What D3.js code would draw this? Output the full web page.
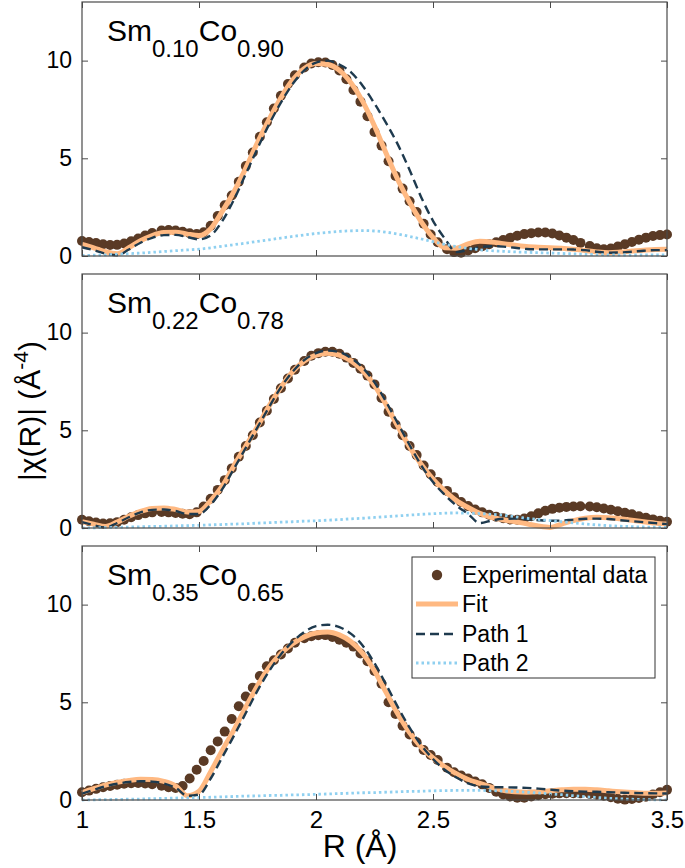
<!DOCTYPE html>
<html><head><meta charset="utf-8">
<script src="https://cdn.jsdelivr.net/npm/d3@7"></script>
<style>
body{margin:0;background:#fff}
svg text{font-family:"Liberation Sans",Arial,Helvetica,sans-serif;fill:#000}
</style>
</head><body>
<svg id="chart" width="685" height="868"></svg>
<script>
// ---------- data ----------
const rData = [
1.00,1.03,1.06,1.09,1.12,1.15,1.18,1.21,1.24,1.27,
1.30,1.34,1.37,1.40,1.43,1.46,1.49,1.52,1.55,1.58,
1.61,1.64,1.67,1.70,1.73,1.76,1.79,1.82,1.85,1.88,
1.91,1.95,1.98,2.01,2.04,2.07,2.10,2.13,2.16,2.19,
2.22,2.25,2.28,2.31,2.34,2.37,2.40,2.43,2.46,2.49,
2.52,2.56,2.59,2.62,2.65,2.68,2.71,2.74,2.77,2.80,
2.83,2.86,2.89,2.92,2.95,2.98,3.01,3.04,3.07,3.10,
3.13,3.17,3.20,3.23,3.26,3.29,3.32,3.35,3.38,3.41,
3.44,3.47,3.50];

const rLine = [
1.00,1.05,1.10,1.15,1.20,1.25,1.30,1.35,1.40,1.45,
1.50,1.55,1.60,1.65,1.70,1.75,1.80,1.85,1.90,1.95,
2.00,2.05,2.10,2.15,2.20,2.25,2.30,2.35,2.40,2.45,
2.50,2.55,2.60,2.65,2.70,2.75,2.80,2.85,2.90,2.95,
3.00,3.05,3.10,3.15,3.20,3.25,3.30,3.35,3.40,3.45,3.50];

// Sm0.10Co0.90
const exp010 = [
0.77,0.72,0.66,0.60,0.56,0.57,0.64,0.75,0.90,1.05,
1.18,1.30,1.33,1.30,1.24,1.16,1.12,1.22,1.55,2.05,
2.60,3.10,3.80,4.60,5.30,6.10,6.85,7.55,8.20,8.80,
9.25,9.65,9.85,9.92,9.90,9.78,9.50,9.05,8.50,7.90,
7.15,6.35,5.65,4.85,4.10,3.45,2.80,2.25,1.65,1.10,
0.70,0.35,0.20,0.17,0.28,0.40,0.50,0.60,0.70,0.82,
0.94,1.04,1.12,1.17,1.20,1.20,1.15,1.05,0.94,0.82,
0.67,0.51,0.40,0.34,0.38,0.48,0.60,0.72,0.83,0.94,
1.02,1.07,1.10];
const fit010 = [
0.60,0.42,0.22,0.12,0.42,0.78,1.05,1.20,1.22,1.12,
1.05,1.40,2.30,3.30,4.50,5.80,7.00,8.10,9.00,9.60,
9.85,9.80,9.50,8.85,7.90,6.65,5.25,3.90,2.75,1.75,
0.95,0.42,0.40,0.62,0.75,0.72,0.63,0.55,0.49,0.45,
0.42,0.40,0.35,0.28,0.21,0.17,0.20,0.25,0.30,0.33,0.35];
const p1_010 = [
0.45,0.30,0.12,0.04,0.33,0.68,0.93,1.07,1.08,0.97,
0.85,1.05,1.80,2.90,4.20,5.50,6.75,7.85,8.80,9.50,
9.90,10.00,9.80,9.40,8.70,7.80,6.80,5.70,4.40,3.00,
1.80,0.90,0.20,0.30,0.45,0.50,0.48,0.42,0.36,0.34,
0.34,0.34,0.33,0.30,0.22,0.17,0.18,0.22,0.27,0.30,0.30];
const p2_010 = [
0.03,0.04,0.06,0.09,0.12,0.15,0.19,0.23,0.27,0.31,
0.35,0.42,0.50,0.58,0.66,0.75,0.83,0.92,1.00,1.08,
1.15,1.21,1.26,1.29,1.30,1.28,1.22,1.12,1.00,0.87,
0.73,0.60,0.48,0.39,0.32,0.27,0.24,0.21,0.19,0.17,
0.15,0.13,0.11,0.09,0.07,0.06,0.05,0.05,0.05,0.05,0.05];

// Sm0.22Co0.78
const exp022 = [
0.42,0.35,0.28,0.23,0.24,0.30,0.42,0.55,0.66,0.75,
0.80,0.82,0.80,0.77,0.73,0.71,0.80,1.10,1.50,1.95,
2.45,3.05,3.65,4.20,4.75,5.40,6.00,6.60,7.15,7.65,
8.10,8.55,8.82,8.95,9.02,9.02,8.92,8.72,8.45,8.15,
7.80,7.35,6.65,5.95,5.30,4.75,4.20,3.73,3.20,2.75,
2.36,1.90,1.58,1.33,1.12,0.95,0.80,0.68,0.58,0.50,
0.44,0.42,0.48,0.60,0.75,0.88,0.98,1.04,1.08,1.10,
1.11,1.10,1.06,1.00,0.93,0.86,0.78,0.70,0.60,0.52,
0.44,0.37,0.32];
const fit022 = [
0.32,0.20,0.08,0.30,0.60,0.85,1.00,1.03,0.95,0.82,
0.85,1.40,2.15,3.20,4.20,5.20,6.25,7.20,8.00,8.55,
8.85,8.95,8.85,8.55,8.05,7.30,6.30,5.20,4.15,3.25,
2.50,1.90,1.40,1.05,0.75,0.55,0.42,0.32,0.22,0.10,
0.03,0.20,0.38,0.50,0.55,0.53,0.47,0.40,0.32,0.25,0.20];
const p1_022 = [
0.30,0.15,0.02,0.25,0.55,0.80,0.93,0.95,0.87,0.72,
0.72,1.20,2.00,3.05,4.10,5.15,6.20,7.20,8.00,8.60,
8.95,9.08,9.00,8.70,8.20,7.45,6.45,5.35,4.25,3.20,
2.35,1.70,1.15,0.72,0.25,0.38,0.47,0.48,0.45,0.40,
0.37,0.38,0.43,0.47,0.48,0.46,0.40,0.35,0.30,0.25,0.20];
const p2_022 = [
0.00,0.01,0.02,0.03,0.05,0.06,0.08,0.09,0.11,0.12,
0.14,0.16,0.18,0.20,0.22,0.25,0.27,0.30,0.32,0.35,
0.37,0.40,0.43,0.47,0.50,0.54,0.58,0.62,0.66,0.70,
0.73,0.76,0.77,0.76,0.74,0.70,0.65,0.58,0.50,0.44,
0.38,0.32,0.26,0.21,0.16,0.12,0.09,0.07,0.05,0.04,0.03];

// Sm0.35Co0.65
const exp035 = [
0.40,0.48,0.57,0.65,0.72,0.78,0.83,0.86,0.87,0.85,
0.81,0.73,0.65,0.62,0.72,1.10,1.55,2.00,2.55,3.00,
3.50,4.15,4.80,5.30,5.75,6.35,6.85,7.15,7.45,7.75,
8.05,8.28,8.38,8.43,8.44,8.34,8.20,8.05,7.85,7.50,
7.10,6.60,5.95,5.00,4.40,3.80,3.35,2.95,2.56,2.30,
2.05,1.65,1.42,1.25,1.10,0.95,0.80,0.62,0.42,0.28,
0.18,0.12,0.12,0.18,0.24,0.29,0.32,0.34,0.35,0.35,
0.34,0.31,0.27,0.22,0.14,0.06,0.02,0.05,0.10,0.17,
0.28,0.40,0.52];
const fit035 = [
0.38,0.58,0.76,0.90,1.00,1.06,1.05,0.95,0.72,0.22,
0.45,1.45,2.55,3.60,4.75,5.85,6.80,7.50,8.00,8.35,
8.55,8.60,8.45,8.10,7.50,6.60,5.50,4.40,3.45,2.70,
2.15,1.70,1.35,1.05,0.85,0.65,0.50,0.42,0.40,0.42,
0.47,0.52,0.55,0.55,0.52,0.47,0.42,0.38,0.35,0.35,0.36];
const p1_035 = [
0.32,0.52,0.70,0.83,0.92,0.96,0.94,0.84,0.62,0.22,
0.28,1.10,2.20,3.30,4.45,5.60,6.60,7.45,8.10,8.60,
8.90,8.97,8.85,8.50,7.90,7.00,5.90,4.75,3.70,2.80,
2.10,1.55,1.15,0.85,0.70,0.66,0.65,0.64,0.62,0.58,
0.53,0.48,0.45,0.43,0.42,0.40,0.38,0.36,0.35,0.34,0.33];
const p2_035 = [
0.00,0.01,0.02,0.03,0.04,0.05,0.07,0.08,0.10,0.11,
0.13,0.14,0.16,0.18,0.20,0.21,0.23,0.24,0.26,0.27,
0.29,0.31,0.33,0.35,0.37,0.38,0.40,0.42,0.44,0.45,
0.47,0.48,0.49,0.49,0.49,0.48,0.46,0.43,0.40,0.36,
0.31,0.27,0.22,0.17,0.13,0.09,0.06,0.04,0.02,0.01,0.01];

const smFractions = ["0.10","0.22","0.35"];
const coFractions = ["0.90","0.78","0.65"];
const xTicks = [1, 1.5, 2, 2.5, 3, 3.5];
const yTicks = [0, 5, 10];
const legendLabels = ["Experimental data", "Fit", "Path 1", "Path 2"];

// ---------- layout / style ----------
const L = 82, R = 667;
const panelTops = [2, 274, 546];
const panelH = 254;
const axisColor = "#4a4a4a";
const colExp = "#5a3a25", colFit = "#ffb982", colP1 = "#1e3a4e", colP2 = "#8fd0f0";
const FONT = '"Liberation Sans",Arial,sans-serif';

const panels = [
  {exp: exp010, fit: fit010, p1: p1_010, p2: p2_010},
  {exp: exp022, fit: fit022, p1: p1_022, p2: p2_022},
  {exp: exp035, fit: fit035, p1: p1_035, p2: p2_035}
];

const svg = d3.select("#chart");
const x = d3.scaleLinear().domain([1, 3.5]).range([L, R]);

panels.forEach((p, i) => {
  const top = panelTops[i], bot = top + panelH;
  const y = d3.scaleLinear().domain([0, 13]).range([bot, top]);
  const g = svg.append("g");

  const line = arr => d3.line().x((d, k) => x(rLine[k])).y(d => y(d)).curve(d3.curveMonotoneX)(arr);
  g.append("g").selectAll("circle").data(p.exp).join("circle")
    .attr("cx", (d, k) => x(rData[k])).attr("cy", d => y(d)).attr("r", 5)
    .attr("fill", colExp);
  g.append("path").attr("d", line(p.fit)).attr("fill", "none")
    .attr("stroke", colFit).attr("stroke-width", 5).attr("stroke-linejoin", "round");
  g.append("path").attr("d", line(p.p1)).attr("fill", "none")
    .attr("stroke", colP1).attr("stroke-width", 2.4).attr("stroke-dasharray", "9,5");
  g.append("path").attr("d", line(p.p2)).attr("fill", "none")
    .attr("stroke", colP2).attr("stroke-width", 2.8).attr("stroke-dasharray", "2.5,3");

  const left = d3.axisLeft(y).tickValues(yTicks).tickSize(-6).tickPadding(10).tickFormat(d3.format("d"));
  const right = d3.axisRight(y).tickValues(yTicks).tickSize(-6).tickFormat("");
  const topAx = d3.axisTop(x).tickValues(xTicks).tickSize(-6).tickFormat("");
  const bottom = d3.axisBottom(x).tickValues(xTicks).tickSize(-6).tickPadding(11)
    .tickFormat(i === 2 ? d3.format("") : "");
  const axes = [
    g.append("g").attr("transform", `translate(${L},0)`).call(left),
    g.append("g").attr("transform", `translate(${R},0)`).call(right),
    g.append("g").attr("transform", `translate(0,${top})`).call(topAx),
    g.append("g").attr("transform", `translate(0,${bot})`).call(bottom)
  ];
  axes.forEach((a, ai) => {
    a.select(".domain").remove();
    a.selectAll(".tick line").attr("stroke", axisColor).attr("stroke-width", 1);
    a.selectAll(".tick text").attr("font-size", ai === 3 ? 24 : 23).attr("fill", "#000")
      .style("font-family", FONT);
  });
  g.append("rect").attr("x", L).attr("y", top).attr("width", R - L).attr("height", panelH)
    .attr("fill", "none").attr("stroke", axisColor).attr("stroke-width", 1.2);

  const t = g.append("text").attr("x", 107).attr("y", top + 39).attr("font-size", 30);
  t.append("tspan").text("Sm");
  t.append("tspan").attr("font-size", 24).attr("dy", 16).text(smFractions[i]);
  t.append("tspan").attr("dy", -16).text("Co");
  t.append("tspan").attr("font-size", 24).attr("dy", 16).text(coFractions[i]);
});

// legend in bottom panel
const lg = svg.append("g");
lg.append("rect").attr("x", 412).attr("y", 557).attr("width", 243).attr("height", 121)
  .attr("fill", "#fff").attr("stroke", "#333").attr("stroke-width", 1);
const rowY = [575, 604, 634, 663];
const legendStyles = [
  null,
  {c: colFit, w: 5, d: null},
  {c: colP1, w: 2.4, d: "9,5"},
  {c: colP2, w: 2.8, d: "2.5,3"}
];
legendLabels.forEach((lab, k) => {
  const yy = rowY[k];
  if (k === 0) {
    lg.append("circle").attr("cx", 437).attr("cy", yy).attr("r", 5.2).attr("fill", colExp);
  } else {
    const s = legendStyles[k];
    lg.append("line").attr("x1", 416).attr("x2", 458).attr("y1", yy).attr("y2", yy)
      .attr("stroke", s.c).attr("stroke-width", s.w).attr("stroke-dasharray", s.d);
  }
  lg.append("text").attr("x", 462).attr("y", yy).attr("dy", "0.36em")
    .attr("font-size", 23).text(lab);
});

// axis titles
svg.append("text").attr("x", 360).attr("y", 857).attr("text-anchor", "middle")
  .attr("font-size", 32).text("R (Å)");
const yl = svg.append("text").attr("transform", "translate(40,411) rotate(-90)")
  .attr("text-anchor", "middle").attr("font-size", 30);
yl.append("tspan").text("|χ(R)| (Å");
yl.append("tspan").attr("font-size", 21).attr("dy", -12).text("-4");
yl.append("tspan").attr("dy", 12).text(")");
</script>
</body></html>
